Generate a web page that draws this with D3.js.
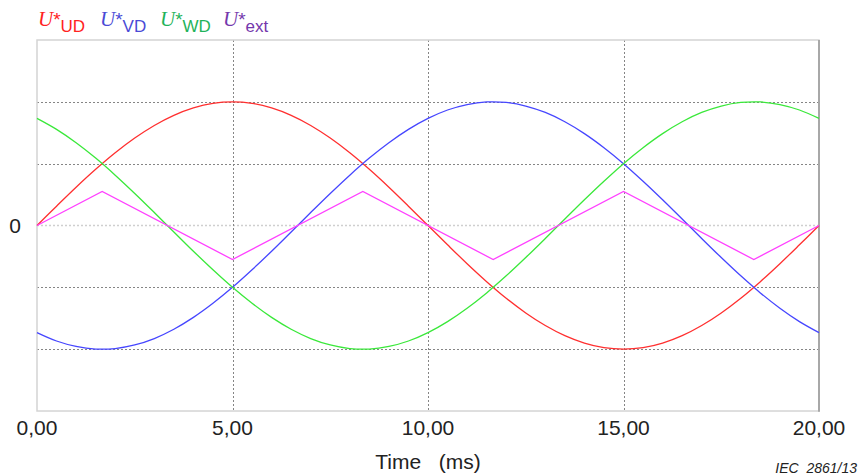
<!DOCTYPE html>
<html>
<head>
    <title></title>
    <script src="https://cdn.jsdelivr.net/npm/d3@7"></script>
    <style>
        body{ margin: 0; background: #ffffff; }
        .tick-label{
            font-family: "Liberation Sans", Arial, sans-serif;
            font-size: 21px;
            fill: #222222;
        }
        .grid{ fill: none; stroke: #858585; stroke-width: 1; stroke-dasharray: 2,2; }
        .wave{ fill: none; stroke-width: 1.3; }
    </style>
</head>
<body>

<script type="text/javascript">

    // time axis (ms), sampled every 0.5 ms
    var timeMs = [0, 0.5, 1, 1.5, 2, 2.5, 3, 3.5, 4, 4.5, 5, 5.5, 6, 6.5, 7, 7.5, 8, 8.5, 9, 9.5,
                  10, 10.5, 11, 11.5, 12, 12.5, 13, 13.5, 14, 14.5, 15, 15.5, 16, 16.5, 17, 17.5, 18, 18.5, 19, 19.5, 20];

    var uUD = [0, .156, .309, .454, .588, .707, .809, .891, .951, .988, 1, .988, .951, .891, .809, .707, .588, .454, .309, .156,
               0, -.156, -.309, -.454, -.588, -.707, -.809, -.891, -.951, -.988, -1, -.988, -.951, -.891, -.809, -.707, -.588, -.454, -.309, -.156, 0];

    var uVD = [-.866, -.934, -.978, -.999, -.995, -.966, -.914, -.839, -.743, -.629, -.5, -.358, -.208, -.052, .105, .259, .407, .545, .669, .777,
               .866, .934, .978, .999, .995, .966, .914, .839, .743, .629, .5, .358, .208, .052, -.105, -.259, -.407, -.545, -.669, -.777, -.866];

    var uWD = [.866, .777, .669, .545, .407, .259, .105, -.052, -.208, -.358, -.5, -.629, -.743, -.839, -.914, -.966, -.995, -.999, -.978, -.934,
               -.866, -.777, -.669, -.545, -.407, -.259, -.105, .052, .208, .358, .5, .629, .743, .839, .914, .966, .995, .999, .978, .934, .866];

    // U*ext is piecewise linear, only its corners are needed
    var extTime = [0, 1.667, 5, 8.333, 11.667, 15, 18.333, 20];
    var uExt = [0, .275, -.275, .275, -.275, .275, -.275, 0];

    var xTicks = [0, 5, 10, 15, 20];
    var yGrid = [-1, -0.5, 0.5, 1];

    var w = 860,
        h = 476,
        plotLeft = 37,
        plotRight = 819,
        plotTop = 40,
        plotBottom = 411;

    var svg = d3.select("body")
            .append("svg")
            .attr("width", w)
            .attr("height", h);

    var x = d3.scaleLinear().domain([0, 20]).range([plotLeft, plotRight]);
    var y = d3.scaleLinear().domain([-1.5, 1.5]).range([plotBottom, plotTop]);

    // grid lines
    svg.selectAll("line.hgrid")
            .data(yGrid)
            .enter()
            .append("line")
            .attr("class", "grid")
            .attr("x1", plotLeft).attr("x2", plotRight)
            .attr("y1", function(d){ return Math.round(y(d)) + 0.5; })
            .attr("y2", function(d){ return Math.round(y(d)) + 0.5; });

    svg.append("line")
            .attr("class", "grid")
            .style("stroke", "#cfcfcf")
            .style("stroke-width", 1.5)
            .attr("x1", plotLeft).attr("x2", plotRight)
            .attr("y1", y(0)).attr("y2", y(0));

    svg.selectAll("line.vgrid")
            .data([5, 10, 15])
            .enter()
            .append("line")
            .attr("class", "grid")
            .attr("y1", plotTop).attr("y2", plotBottom)
            .attr("x1", function(d){ return Math.round(x(d)) + 0.5; })
            .attr("x2", function(d){ return Math.round(x(d)) + 0.5; });

    // frame
    svg.append("rect")
            .attr("x", plotLeft).attr("y", plotTop)
            .attr("width", plotRight - plotLeft).attr("height", plotBottom - plotTop)
            .attr("fill", "none")
            .attr("stroke", "#d4d4d4")
            .attr("stroke-width", 1.5);
    svg.append("line")
            .attr("x1", plotRight).attr("x2", plotRight)
            .attr("y1", plotTop).attr("y2", plotBottom + 0.75)
            .attr("stroke", "#a8a8a8")
            .attr("stroke-width", 2);

    // curves
    var sine = d3.line()
            .x(function(d){ return x(d[0]); })
            .y(function(d){ return y(d[1]); })
            .curve(d3.curveCatmullRom);

    var series = [
        {vals: uUD, color: "#ff2f2f"},
        {vals: uVD, color: "#4646ff"},
        {vals: uWD, color: "#3ae83a"}
    ];

    series.forEach(function(s){
        svg.append("path")
                .datum(d3.zip(timeMs, s.vals))
                .attr("class", "wave")
                .attr("stroke", s.color)
                .attr("d", sine);
    });

    svg.append("path")
            .datum(d3.zip(extTime, uExt))
            .attr("class", "wave")
            .attr("stroke", "#ff40ff")
            .attr("d", sine.curve(d3.curveLinear));

    // x axis labels
    svg.selectAll("text.xlab")
            .data(xTicks)
            .enter()
            .append("text")
            .attr("class", "tick-label")
            .attr("x", function(d){ return x(d); })
            .attr("y", 435)
            .attr("text-anchor", "middle")
            .text(function(d){ return d3.format(".2f")(d).replace(".", ","); });

    svg.append("text")
            .attr("class", "tick-label")
            .attr("x", 15)
            .attr("y", y(0) + 7.5)
            .attr("text-anchor", "middle")
            .text("0");

    svg.append("text")
            .attr("class", "tick-label")
            .attr("x", 428)
            .attr("y", 469)
            .attr("text-anchor", "middle")
            .style("white-space", "pre")
            .text("Time   (ms)");

    svg.append("text")
            .attr("x", 857)
            .attr("y", 473)
            .attr("text-anchor", "end")
            .style("font-family", "'Liberation Sans', Arial, sans-serif")
            .style("font-size", "14px")
            .style("font-style", "italic")
            .style("fill", "#222")
            .style("white-space", "pre")
            .text("IEC  2861/13");

    // legend
    var legend = [
        {sub: "UD", x: 38, color: "#ff2222"},
        {sub: "VD", x: 100, color: "#4a4ad6"},
        {sub: "WD", x: 160, color: "#1fb35a"},
        {sub: "ext", x: 223, color: "#7438ac"}
    ];

    legend.forEach(function(l){
        var t = svg.append("text")
                .attr("x", l.x)
                .attr("y", 26)
                .style("fill", l.color);
        t.append("tspan")
                .style("font-family", "'Liberation Serif', 'Times New Roman', serif")
                .style("font-style", "italic")
                .style("font-size", "21px")
                .text("U");
        t.append("tspan")
                .style("font-family", "'Liberation Sans', Arial, sans-serif")
                .style("font-size", "19px")
                .attr("dy", 0)
                .text("*");
        t.append("tspan")
                .style("font-family", "'Liberation Sans', Arial, sans-serif")
                .style("font-size", "17px")
                .attr("dy", 6)
                .text(l.sub);
    });
</script>
</body>
</html>
